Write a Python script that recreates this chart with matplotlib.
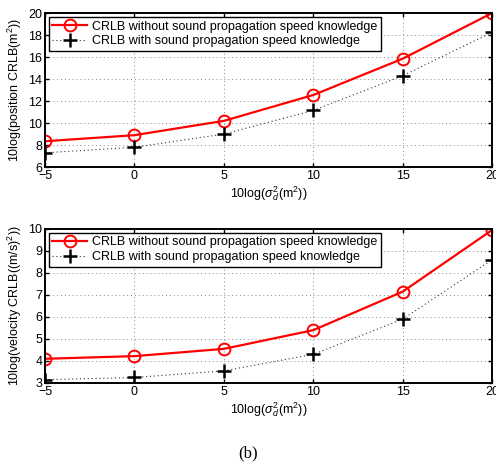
import matplotlib
matplotlib.use('Agg')
import matplotlib.pyplot as plt

plt.rcParams['font.family'] = ['Liberation Sans', 'DejaVu Sans']
plt.rcParams['mathtext.fontset'] = 'custom'
plt.rcParams['mathtext.rm'] = 'Liberation Sans'
plt.rcParams['mathtext.it'] = 'Liberation Sans:italic'
plt.rcParams['font.size'] = 9

sigma_db = [-5, 0, 5, 10, 15, 20]
pos_without = [8.35, 8.9, 10.2, 12.55, 15.85, 20.0]
pos_with = [7.3, 7.8, 9.0, 11.15, 14.3, 18.25]
vel_without = [4.1, 4.22, 4.55, 5.4, 7.15, 9.95]
vel_with = [3.15, 3.25, 3.55, 4.3, 5.9, 8.6]

label_without = 'CRLB without sound propagation speed knowledge'
label_with = 'CRLB with sound propagation speed knowledge'
xlabel = r'10log($\sigma_d^2$(m$^2$))'

fig = plt.figure(figsize=(4.96, 4.72), dpi=100)
ax1 = fig.add_axes([0.0907, 0.646, 0.9013, 0.3263])
ax2 = fig.add_axes([0.0907, 0.1886, 0.9013, 0.3263])


def draw(ax, without, withk, ylim, yticks, ylabel):
  ax.plot(sigma_db, without, color='red', lw=1.6, marker='o', ms=8.5,
          mfc='none', mec='red', mew=1.4, label=label_without)
  ax.plot(sigma_db, withk, color='#333333', lw=0.8, ls=(0, (1, 2.5)),
          marker='+', ms=10, mew=1.8, mec='black', label=label_with)
  ax.set_xlim(-5, 20)
  ax.set_ylim(*ylim)
  ax.set_xticks(sigma_db)
  ax.set_xticklabels(['\u22125', '0', '5', '10', '15', '20'])
  ax.set_yticks(yticks)
  ax.grid(True, color='#888888', ls=(0, (1, 3)), lw=0.7)
  ax.tick_params(direction='in', top=True, right=True, length=3, width=1, pad=2)
  for s in ax.spines.values():
    s.set_linewidth(1.4)
  ax.set_xlabel(xlabel, labelpad=2)
  ax.set_ylabel(ylabel, labelpad=3)
  leg = ax.legend(loc='upper left', fancybox=False, framealpha=1,
                  edgecolor='black', borderaxespad=0.3, handlelength=2.8,
                  borderpad=0.3, labelspacing=0.2, handletextpad=0.4)
  leg.get_frame().set_linewidth(1.0)


draw(ax1, pos_without, pos_with, (6, 20), range(6, 21, 2), '10log(position CRLB(m$^2$))')
draw(ax2, vel_without, vel_with, (3, 10), range(3, 11), '10log(velocity CRLB((m/s)$^2$))')

fig.text(0.5, 0.022, '(b)', ha='center', va='bottom', fontsize=12,
         family=['Liberation Serif', 'DejaVu Serif'])

fig.savefig('out.png', dpi=100)
